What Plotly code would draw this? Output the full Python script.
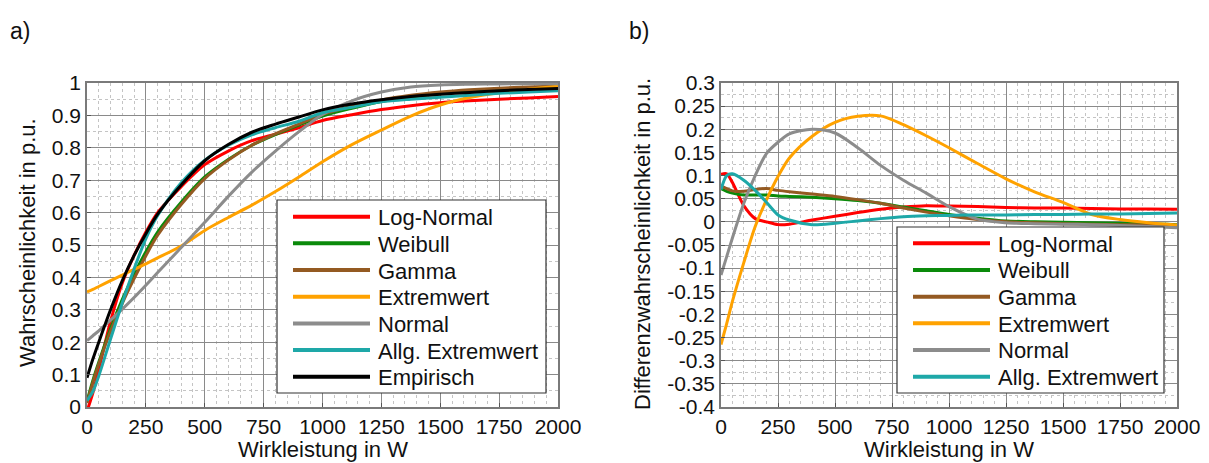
import plotly.graph_objects as go

W, H = 1209, 463

# ---------------- data ----------------
watt = [0, 25, 50, 100, 150, 200, 250, 300, 400, 500, 600, 700, 800, 900,
        1000, 1125, 1250, 1375, 1500, 1625, 1750, 1875, 2000]

# a) cumulative probability
cdf_lognormal = [-0.013, 0.044, 0.115, 0.265, 0.383, 0.468, 0.54, 0.6, 0.68, 0.748, 0.79, 0.822,
                 0.842, 0.862, 0.884, 0.902, 0.918, 0.93, 0.939, 0.945, 0.95, 0.954, 0.958]
cdf_weibull = [0.018, 0.082, 0.138, 0.242, 0.332, 0.41, 0.479, 0.54, 0.632, 0.71, 0.764, 0.808,
               0.841, 0.87, 0.898, 0.922, 0.943, 0.957, 0.967, 0.974, 0.98, 0.985, 0.988]
cdf_gamma = [0.012, 0.076, 0.133, 0.234, 0.32, 0.396, 0.467, 0.53, 0.625, 0.705, 0.762, 0.808,
             0.843, 0.873, 0.903, 0.928, 0.948, 0.962, 0.972, 0.979, 0.984, 0.988, 0.991]
cdf_extremwert = [0.355, 0.363, 0.372, 0.39, 0.407, 0.425, 0.442, 0.46, 0.497, 0.545, 0.585, 0.623,
                  0.665, 0.71, 0.757, 0.81, 0.855, 0.898, 0.932, 0.955, 0.97, 0.981, 0.99]
cdf_normal = [0.205, 0.22, 0.235, 0.268, 0.302, 0.338, 0.376, 0.415, 0.492, 0.57, 0.65, 0.725,
              0.79, 0.85, 0.903, 0.945, 0.972, 0.988, 0.994, 0.996, 0.997, 0.998, 0.998]
cdf_allg_extremwert = [0.02, 0.048, 0.096, 0.21, 0.322, 0.426, 0.52, 0.591, 0.692, 0.762, 0.808, 0.84,
                       0.862, 0.882, 0.908, 0.925, 0.942, 0.95, 0.956, 0.962, 0.968, 0.972, 0.976]
cdf_empirisch = [0.09, 0.148, 0.2, 0.3, 0.39, 0.468, 0.535, 0.595, 0.685, 0.76, 0.81, 0.848,
                 0.873, 0.895, 0.917, 0.935, 0.948, 0.958, 0.965, 0.971, 0.976, 0.98, 0.983]

# b) difference probability
diff_lognormal = [0.103, 0.104, 0.085, 0.035, 0.007, 0.0, -0.006, -0.005, 0.004, 0.012, 0.02, 0.027,
                  0.032, 0.035, 0.034, 0.033, 0.031, 0.03, 0.03, 0.029, 0.028, 0.028, 0.027]
diff_weibull = [0.072, 0.066, 0.062, 0.058, 0.058, 0.058, 0.056, 0.055, 0.053, 0.05, 0.046, 0.04,
                0.032, 0.024, 0.016, 0.008, 0.002, 0.0, -0.001, -0.002, -0.003, -0.004, -0.006]
diff_gamma = [0.078, 0.072, 0.067, 0.066, 0.07, 0.072, 0.068, 0.065, 0.06, 0.055, 0.048, 0.04,
              0.03, 0.021, 0.013, 0.005, 0.0, -0.002, -0.004, -0.005, -0.006, -0.007, -0.008]
diff_extremwert = [-0.265, -0.22, -0.172, -0.088, -0.01, 0.048, 0.098, 0.138, 0.185, 0.215, 0.228, 0.229,
                   0.21, 0.186, 0.16, 0.126, 0.093, 0.065, 0.042, 0.016, 0.005, -0.002, -0.007]
diff_normal = [-0.115, -0.075, -0.035, 0.04, 0.1, 0.148, 0.172, 0.19, 0.2, 0.192, 0.16, 0.122,
               0.09, 0.062, 0.033, 0.006, -0.002, -0.004, -0.005, -0.006, -0.008, -0.01, -0.013]
diff_allg_extremwert = [0.07, 0.1, 0.104, 0.09, 0.068, 0.042, 0.015, 0.004, -0.006, -0.003, 0.002, 0.007,
                        0.011, 0.013, 0.014, 0.015, 0.015, 0.016, 0.016, 0.017, 0.017, 0.018, 0.019]

names = ["Log-Normal", "Weibull", "Gamma", "Extremwert", "Normal", "Allg. Extremwert", "Empirisch"]
colors = ["#ff0000", "#0a8a0a", "#945a22", "#ffa200", "#8c8c8c", "#1ea8a8", "#000000"]

cdf_series = [cdf_lognormal, cdf_weibull, cdf_gamma, cdf_extremwert, cdf_normal,
              cdf_allg_extremwert, cdf_empirisch]
diff_series = [diff_lognormal, diff_weibull, diff_gamma, diff_extremwert, diff_normal,
               diff_allg_extremwert]

x_ticks = [0, 250, 500, 750, 1000, 1250, 1500, 1750, 2000]
x_ticktext = ["0", "250", "500", "750", "1000", "1250", "1500", "1750", "2000"]
ya_ticks = [0, 0.1, 0.2, 0.3, 0.4, 0.5, 0.6, 0.7, 0.8, 0.9, 1]
ya_ticktext = ["0", "0.1", "0.2", "0.3", "0.4", "0.5", "0.6", "0.7", "0.8", "0.9", "1"]
yb_ticks = [0.3, 0.25, 0.2, 0.15, 0.1, 0.05, 0, -0.05, -0.1, -0.15, -0.2, -0.25, -0.3, -0.35, -0.4]
yb_ticktext = ["0.3", "0.25", "0.2", "0.15", "0.1", "0.05", "0", "-0.05", "-0.1", "-0.15",
               "-0.2", "-0.25", "-0.3", "-0.35", "-0.4"]

# ---------------- figure ----------------
FONT = "Liberation Sans, Arial, sans-serif"
TXT = "#111111"


def pxx(v):
    return v / W


def pxy(v):
    return 1 - v / H


fig = go.Figure()

for name, col, ys in zip(names, colors, cdf_series):
    fig.add_trace(go.Scatter(x=watt, y=ys, mode="lines", name=name, showlegend=False,
                             line=dict(color=col, width=3, shape="spline", smoothing=0.8),
                             xaxis="x", yaxis="y"))

for name, col, ys in zip(names[:6], colors[:6], diff_series):
    fig.add_trace(go.Scatter(x=watt, y=ys, mode="lines", name=name, showlegend=False,
                             line=dict(color=col, width=3, shape="spline", smoothing=0.8),
                             xaxis="x2", yaxis="y2"))

axis_common = dict(
    showgrid=True, gridcolor="#8a8a8a", gridwidth=1,
    showline=True, mirror=True, linecolor="#7a7a7a", linewidth=1.5,
    zeroline=False, ticks="inside", ticklen=4, tickcolor="#555555",
    tickfont=dict(family=FONT, size=21, color=TXT), automargin=False,
)
minor_x = dict(dtick=50, tick0=0, showgrid=True, gridcolor="#c4c4c4", griddash="dot", gridwidth=1)

ydom = [pxy(407), pxy(83)]

fig.update_layout(
    template="none",
    width=W, height=H, margin=dict(l=0, r=0, t=0, b=0, pad=0, autoexpand=False),
    paper_bgcolor="white", plot_bgcolor="white",
    font=dict(family=FONT, color=TXT),
    showlegend=False,
    xaxis=dict(domain=[pxx(87), pxx(558)], range=[0, 2000], anchor="y",
               tickmode="array", tickvals=x_ticks, ticktext=x_ticktext,
               minor=minor_x, **axis_common),
    yaxis=dict(domain=ydom, range=[0, 1], anchor="x",
               tickmode="array", tickvals=ya_ticks, ticktext=ya_ticktext,
               minor=dict(dtick=0.05, tick0=0, showgrid=True, gridcolor="#c4c4c4",
                          griddash="dot", gridwidth=1),
               **axis_common),
    xaxis2=dict(domain=[pxx(721), pxx(1177)], range=[0, 2000], anchor="y2",
                tickmode="array", tickvals=x_ticks, ticktext=x_ticktext,
                minor=minor_x, **axis_common),
    yaxis2=dict(domain=ydom, range=[-0.4, 0.3], anchor="x2",
                tickmode="array", tickvals=yb_ticks, ticktext=yb_ticktext,
                minor=dict(dtick=0.025, tick0=0, showgrid=True, gridcolor="#c4c4c4",
                           griddash="dot", gridwidth=1),
                **axis_common),
)

annotations = []
shapes = []

# panel labels
annotations.append(dict(text="a)", x=pxx(8), y=pxy(31), xref="paper", yref="paper",
                        xanchor="left", yanchor="middle", showarrow=False,
                        font=dict(family=FONT, size=23, color=TXT)))
annotations.append(dict(text="b)", x=pxx(627), y=pxy(31), xref="paper", yref="paper",
                        xanchor="left", yanchor="middle", showarrow=False,
                        font=dict(family=FONT, size=23, color=TXT)))

# axis titles
for cx in (322.5, 949):
    annotations.append(dict(text="Wirkleistung in W", x=pxx(cx), y=pxy(449), xref="paper",
                            yref="paper", xanchor="center", yanchor="middle", showarrow=False,
                            font=dict(family=FONT, size=22, color=TXT)))
annotations.append(dict(text="Wahrscheinlichkeit in p.u.", x=pxx(27), y=pxy(243), xref="paper",
                        yref="paper", xanchor="center", yanchor="middle", showarrow=False,
                        textangle=-90, font=dict(family=FONT, size=22, color=TXT)))
annotations.append(dict(text="Differenzwahrscheinlichkeit in p.u.", x=pxx(642), y=pxy(244),
                        xref="paper", yref="paper", xanchor="center", yanchor="middle",
                        showarrow=False, textangle=-90,
                        font=dict(family=FONT, size=22, color=TXT)))


def legend_box(x0, x1, y0, y1, first_row, labels, cols):
    shapes.append(dict(type="rect", xref="paper", yref="paper",
                       x0=pxx(x0), x1=pxx(x1), y0=pxy(y1), y1=pxy(y0),
                       line=dict(color="#333333", width=1.2), fillcolor="white", layer="above"))
    step = 26.67
    for i, (lab, c) in enumerate(zip(labels, cols)):
        yy = first_row + i * step
        shapes.append(dict(type="line", xref="paper", yref="paper",
                           x0=pxx(x0 + 16), x1=pxx(x0 + 93), y0=pxy(yy), y1=pxy(yy),
                           line=dict(color=c, width=4), layer="above"))
        annotations.append(dict(text=lab, x=pxx(x0 + 99), y=pxy(yy + 1), xref="paper",
                                yref="paper", xanchor="left", yanchor="middle", showarrow=False,
                                font=dict(family=FONT, size=22, color=TXT)))


legend_box(277, 546, 200, 393, 216.7, names, colors)
legend_box(897, 1164, 227, 393, 243.3, names[:6], colors[:6])

fig.update_layout(annotations=annotations, shapes=shapes)

fig.write_html("out.html")
